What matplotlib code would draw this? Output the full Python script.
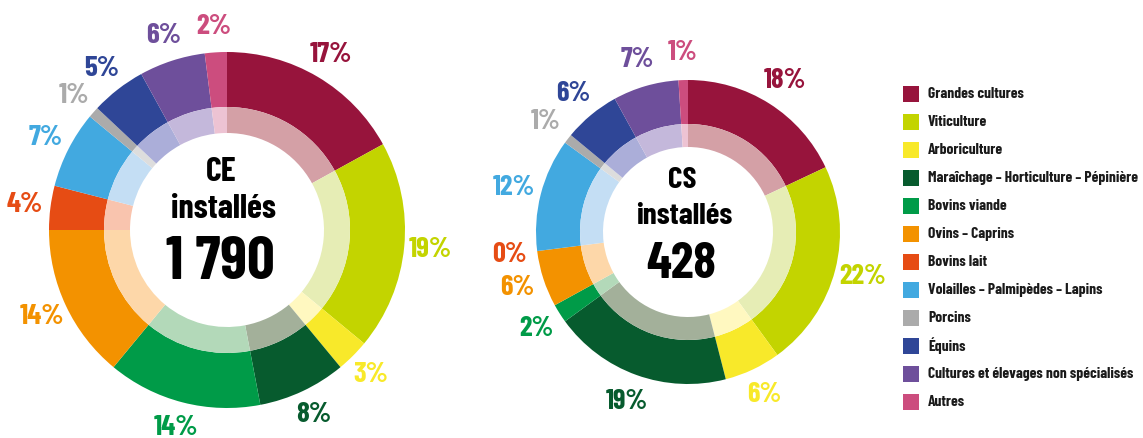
import numpy as np
import matplotlib
matplotlib.use("Agg")
import matplotlib.pyplot as plt
from matplotlib.patches import Rectangle

categories = ["Grandes cultures", "Viticulture", "Arboriculture",
              "Maraîchage – Horticulture – Pépinière", "Bovins viande",
              "Ovins – Caprins", "Bovins lait", "Volailles – Palmipèdes – Lapins",
              "Porcins", "Équins", "Cultures et élevages non spécialisés", "Autres"]
ce_values = [17, 19, 3, 8, 14, 14, 4, 7, 1, 5, 6, 2]
cs_values = [18, 22, 6, 19, 2, 6, 0, 12, 1, 6, 7, 1]
ce_total = "1 790"
cs_total = "428"

dark_colors = ["#97143C", "#C3D400", "#F8E92A", "#075B2E", "#009B48", "#F39200",
               "#E64C14", "#42A9E0", "#ABABAB", "#2F4697", "#6E4F9B", "#CC4D7E"]
light_colors = ["#D4A0A6", "#E6EDB5", "#FFF8C0", "#A3B09A", "#B3D9B9", "#FDD7A9",
                "#F9C4AE", "#C4DEF4", "#DDDDDD", "#ABAED9", "#C4B8DB", "#EDC3D3"]

FONT = ["Barlow Condensed", "DejaVu Sans"]

W, H = 1143, 438
fig = plt.figure(figsize=(W / 100, H / 100), dpi=100)
ax = fig.add_axes([0, 0, 1, 1])


def donut(values, cx, cy, r_out, r_mid, r_in, title, total, total_size, title_size,
          lab_size, lab_off, offs):
    c = (cx, H - cy)
    ax.pie(values, radius=r_out, center=c, startangle=90, counterclock=False,
           colors=dark_colors, wedgeprops=dict(width=r_out - r_mid, linewidth=0))
    ax.pie(values, radius=r_mid, center=c, startangle=90, counterclock=False,
           colors=light_colors, wedgeprops=dict(width=r_mid - r_in, linewidth=0))
    total_v = float(sum(values))
    cum = np.cumsum([0] + list(values))
    r_lab = r_out + lab_off
    for i, v in enumerate(values):
        mid = (cum[i] + v / 2) / total_v * 2 * np.pi
        x = c[0] + r_lab * np.sin(mid)
        y = c[1] + r_lab * np.cos(mid)
        ax.text(x, y, f"{v}%", color=dark_colors[i], ha="center", va="center",
                fontsize=lab_size, fontweight="bold", family=FONT)
    ax.text(c[0] - 6, H - (cy + offs[0]), title, ha="center", va="center",
            fontsize=title_size, fontweight="bold", family=FONT, color="black")
    ax.text(c[0] - 4, H - (cy + offs[1]), "installés", ha="center", va="center",
            fontsize=title_size, fontweight="bold", family=FONT, color="black")
    ax.text(c[0] - 7, H - (cy + offs[2]), total, ha="center", va="center",
            fontsize=total_size, fontweight="bold", family=FONT, color="black")


donut(ce_values, 227, 230, 178, 123, 97, "CE", ce_total, 44, 24.5, 21, 26, (-58, -21, 33))
donut(cs_values, 688, 232, 152, 108, 85, "CS", cs_total, 37, 22.5, 20.5, 28, (-51, -16, 32))

# legend
for i, (name, col) in enumerate(zip(categories, dark_colors)):
    yc = 94 + i * 28
    ax.add_patch(Rectangle((903, H - yc - 8), 16, 16, facecolor=col, edgecolor="none"))
    ax.text(928, H - yc, name, ha="left", va="center", fontsize=11.2,
            fontweight="bold", family=FONT, color="#1a1a1a")

ax.set_xlim(0, W)
ax.set_ylim(0, H)
ax.set_aspect("equal")
ax.axis("off")
fig.savefig("out.png", dpi=100, facecolor="white")
